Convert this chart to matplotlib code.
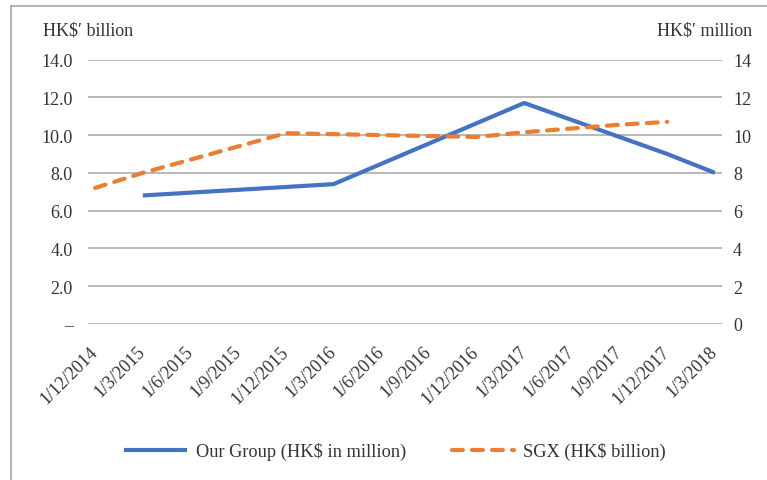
import matplotlib
matplotlib.use("Agg")
import matplotlib.pyplot as plt
from matplotlib.lines import Line2D
import numpy as np

# quarterly category labels
dates = ["1/12/2014", "1/3/2015", "1/6/2015", "1/9/2015", "1/12/2015",
         "1/3/2016", "1/6/2016", "1/9/2016", "1/12/2016", "1/3/2017",
         "1/6/2017", "1/9/2017", "1/12/2017", "1/3/2018"]

# Our Group (HK$ in million) - only some quarters reported
group_idx = [1, 5, 9, 12, 13]
group_vals = [6.8, 7.4, 11.7, 9.0, 8.0]

# SGX (HK$ billion)
sgx_vals = [7.2, 8.0, 8.7, 9.4, 10.1, 10.05, 10.0, 9.95, 9.9, 10.15,
            10.35, 10.55, 10.7, np.nan]

left_ticks = [0, 2, 4, 6, 8, 10, 12, 14]
left_labels = ["–", "2.0", "4.0", "6.0", "8.0", "10.0", "12.0", "14.0"]
right_labels = ["0", "2", "4", "6", "8", "10", "12", "14"]

BLUE = "#4472C4"
ORANGE = "#ED7D31"
TXT = "#333333"
FONT = ["Liberation Serif", "DejaVu Serif"]
plt.rcParams["font.family"] = FONT
plt.rcParams["font.size"] = 13

fig = plt.figure(figsize=(7.67, 4.81), dpi=100)
ax = fig.add_axes([88 / 767, 1 - 324.8 / 481, (722 - 88) / 767, (324.8 - 60.6) / 481])

x = np.arange(len(dates))
ax.plot(group_idx, group_vals, color=BLUE, lw=3, solid_capstyle="butt",
        label="Our Group (HK$ in million)", zorder=3)
ax.plot(x, sgx_vals, color=ORANGE, lw=3, dashes=[2.6, 2.2], dash_capstyle="round",
        label="SGX (HK$ billion)", zorder=3)

ax.set_ylim(0, 14)
ax.set_xlim(-0.15, len(dates) - 1 + 0.15)
ax.set_yticks(left_ticks)
ax.set_yticklabels(left_labels)
ax.yaxis.grid(True, color="#a6a6a6", lw=1.1)
ax.set_axisbelow(True)
ax.set_xticks(x)
ax.set_xticklabels(dates, rotation=45, ha="right", va="center", rotation_mode="anchor")
ax.tick_params(axis="x", length=0, pad=18, colors=TXT)
ax.tick_params(axis="y", length=0, pad=11, colors=TXT)
for s in ax.spines.values():
    s.set_visible(False)

ax2 = ax.twinx()
ax2.set_ylim(0, 14)
ax2.set_yticks(left_ticks)
ax2.set_yticklabels(right_labels)
ax2.tick_params(axis="y", length=0, pad=8, colors=TXT)
for s in ax2.spines.values():
    s.set_visible(False)

fig.text(43 / 767, 1 - 31 / 481, "HK$′ billion", ha="left", va="center", color=TXT)
fig.text(752 / 767, 1 - 31 / 481, "HK$′ million", ha="right", va="center", color=TXT)

fig.legend(loc="center", bbox_to_anchor=(0.515, 1 - 452 / 481), ncol=2, frameon=False,
           handlelength=3.4, handletextpad=0.5, columnspacing=2.5, labelcolor=TXT,
           prop={"family": FONT, "size": 13.2})

# outer chart border (left and top only visible)
fig.add_artist(Line2D([10.5 / 767, 10.5 / 767], [0, 1 - 6.7 / 481], color="#a6a6a6", lw=1.2))
fig.add_artist(Line2D([10.5 / 767, 1], [1 - 6.7 / 481, 1 - 6.7 / 481], color="#a6a6a6", lw=1.2))

fig.savefig("out.png", dpi=100)
